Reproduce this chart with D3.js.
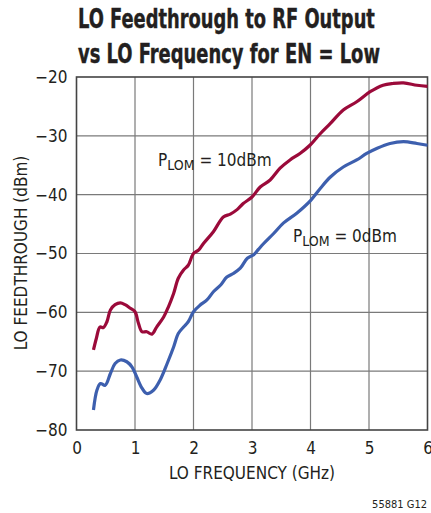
<!DOCTYPE html>
<html><head><meta charset="utf-8">
<script src="https://cdn.jsdelivr.net/npm/d3@7"></script>
<style>
html,body{margin:0;padding:0;background:#fff;overflow:hidden}
text{font-family:"Liberation Sans Narrow","DejaVu Sans Condensed","Roboto",sans-serif;fill:#231f20}
</style></head>
<body><svg id="c" width="431" height="513"></svg>
<script>
const freqRed = [0.29,0.34,0.40,0.46,0.52,0.58,0.66,0.75,0.83,0.92,1.0,1.06,1.12,1.2,1.29,1.37,1.49,1.57,1.66,1.74,1.83,1.91,2.0,2.09,2.17,2.34,2.51,2.63,2.75,2.85,3.0,3.14,3.31,3.48,3.65,3.82,3.99,4.17,4.34,4.56,4.79,5.02,5.24,5.41,5.59,5.82,6.0];
const red10dBm = [-66.4,-64.4,-62.5,-62.6,-61.6,-59.6,-58.7,-58.4,-58.7,-59.3,-59.9,-61.9,-63.3,-63.3,-63.7,-62.5,-60.8,-59.1,-56.8,-54.2,-52.8,-52.0,-50.0,-49.4,-48.3,-46.3,-43.8,-43.3,-42.5,-41.5,-40.4,-38.7,-37.5,-35.5,-34.1,-33.0,-31.6,-29.6,-27.9,-25.6,-24.2,-22.5,-21.4,-21.1,-21.0,-21.4,-21.6];
const freqBlue = [0.29,0.35,0.41,0.49,0.58,0.66,0.75,0.86,0.95,1.03,1.12,1.2,1.32,1.43,1.55,1.66,1.74,1.83,1.91,2.0,2.11,2.23,2.34,2.46,2.57,2.68,2.8,2.92,3.03,3.11,3.2,3.37,3.54,3.77,4.0,4.17,4.34,4.56,4.79,4.96,5.14,5.36,5.59,5.82,6.0];
const blue0dBm = [-76.6,-73.2,-72.1,-72.4,-70.4,-68.7,-68.1,-68.4,-69.3,-71.0,-72.9,-73.8,-73.2,-71.5,-68.7,-65.9,-63.6,-62.5,-61.6,-59.9,-58.8,-57.9,-56.5,-55.4,-54.0,-53.4,-52.5,-50.8,-50.2,-49.3,-48.3,-46.6,-44.8,-43.1,-41.0,-38.9,-37.0,-35.3,-34.1,-33.0,-32.1,-31.3,-31.0,-31.3,-31.6];
const xTicks = [0,1,2,3,4,5,6];
const yTicks = [-80,-70,-60,-50,-40,-30,-20];
const titleLines = ["LO Feedthrough to RF Output","vs LO Frequency for EN = Low"];

const svg = d3.select("#c");
const L=76.5, R=427.5, T=77, B=430;
const x = d3.scaleLinear().domain([0,6]).range([L,R]);
const y = d3.scaleLinear().domain([-80,-20]).range([B,T]);

// title: scaled horizontally to match the condensed reference face
const titleWidths = [297, 302];
titleLines.forEach((s,i)=>{
  const gt = svg.append("g");
  const t = gt.append("text").attr("x",0).attr("y",0)
    .attr("font-size",26).attr("font-weight","bold").attr("stroke","#231f20").attr("stroke-width",0.4).text(s);
  const w = t.node().getComputedTextLength();
  gt.attr("transform",`translate(78,${28+i*35}) scale(${titleWidths[i]/w},1)`);
});

// grid
const g = svg.append("g");
g.selectAll("line.vx").data(xTicks.slice(1,-1)).enter().append("line")
  .attr("x1",d=>x(d)).attr("x2",d=>x(d)).attr("y1",T).attr("y2",B)
  .attr("stroke","#7a7a7a").attr("stroke-width",1.2);
g.selectAll("line.hy").data(yTicks.slice(1,-1)).enter().append("line")
  .attr("y1",d=>y(d)).attr("y2",d=>y(d)).attr("x1",L).attr("x2",R)
  .attr("stroke","#7a7a7a").attr("stroke-width",1.2);
g.append("rect").attr("x",L).attr("y",T).attr("width",R-L).attr("height",B-T)
  .attr("fill","none").attr("stroke","#444").attr("stroke-width",1.6);

// axes labels via d3 axes
const xa = svg.append("g").attr("transform",`translate(0,${B})`)
  .call(d3.axisBottom(x).tickValues(xTicks).tickSize(0).tickPadding(12).tickFormat(d3.format("d")));
xa.select(".domain").remove();
xa.attr("font-family",null);
xa.selectAll("text").attr("font-size",17).attr("fill","#231f20");
const ya = svg.append("g").attr("transform",`translate(${L},0)`)
  .call(d3.axisLeft(y).tickValues(yTicks).tickSize(0).tickPadding(9).tickFormat(d=>"\u2212"+Math.abs(d)));
ya.select(".domain").remove();
ya.attr("font-family",null);
ya.selectAll("text").attr("font-size",17).attr("fill","#231f20");

svg.append("text").attr("x",252).attr("y",479).attr("text-anchor","middle")
  .attr("font-size",17).text("LO FREQUENCY (GHz)");
svg.append("text").attr("transform","translate(27,253) rotate(-90)").attr("text-anchor","middle")
  .attr("font-size",17).text("LO FEEDTHROUGH (dBm)");
svg.append("text").attr("x",427).attr("y",508).attr("text-anchor","end")
  .attr("font-size",11).text("55881 G12");

// lines
const line = d3.line().x(d=>x(d[0])).y(d=>y(d[1])).curve(d3.curveCatmullRom.alpha(0.5));
svg.append("path").datum(d3.zip(freqBlue,blue0dBm)).attr("d",line)
  .attr("fill","none").attr("stroke","#3d5fae").attr("stroke-width",3.2);
svg.append("path").datum(d3.zip(freqRed,red10dBm)).attr("d",line)
  .attr("fill","none").attr("stroke","#9b0a3a").attr("stroke-width",3.2);

// annotations
function lab(px,py,val){
  const t = svg.append("text").attr("x",px).attr("y",py).attr("font-size",17);
  t.append("tspan").text("P");
  t.append("tspan").attr("dy",4).attr("font-size",14).text("LOM");
  t.append("tspan").attr("dy",-4).text(" = "+val);
}
lab(158,166,"10dBm");
lab(293,242,"0dBm");
</script></body></html>
